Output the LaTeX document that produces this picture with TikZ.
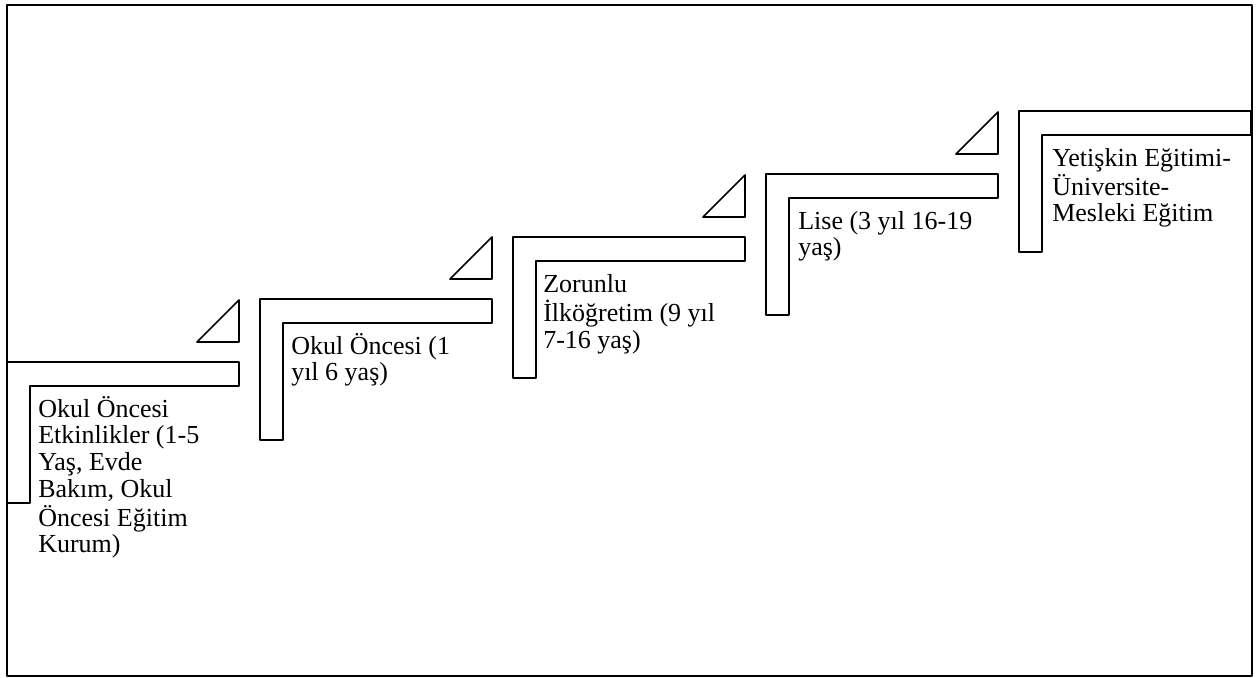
\documentclass[tikz,border=0pt]{standalone}
\usepackage{fontspec}
\setmainfont{Liberation Serif}
\usepackage{tikz}
\newcommand{\steplines}[1]{\begin{tabular}[t]{@{}l@{}}#1\end{tabular}}

\begin{document}
\begin{tikzpicture}[x=0.75pt, y=-0.75pt, line join=round,
    stepshape/.style = {draw, line width=1.3pt},
    steptri/.style = {draw, line width=1.3pt},
    steptext/.style = {anchor=base west, inner sep=0pt, font=\fontsize{19.5}{20}\selectfont}]
            \useasboundingbox (0,0) rectangle (1258,678);
            \draw[line width=1pt] (7,5) rectangle (1252,676);
            % steps
            \draw[stepshape] (7,362) -- ++(232,0) -- ++(0,24) -- ++(-209,0) -- ++(0,117) -- ++(-23,0) -- cycle;
            \draw[stepshape] (260,299) -- ++(232,0) -- ++(0,24) -- ++(-209,0) -- ++(0,117) -- ++(-23,0) -- cycle;
            \draw[stepshape] (513,237) -- ++(232,0) -- ++(0,24) -- ++(-209,0) -- ++(0,117) -- ++(-23,0) -- cycle;
            \draw[stepshape] (766,174) -- ++(232,0) -- ++(0,24) -- ++(-209,0) -- ++(0,117) -- ++(-23,0) -- cycle;
            \draw[stepshape] (1019,111) -- ++(232,0) -- ++(0,24) -- ++(-209,0) -- ++(0,117) -- ++(-23,0) -- cycle;
            % triangles
            \draw[steptri] (239,300) -- (239,342) -- (197,342) -- cycle;
            \draw[steptri] (492,237) -- (492,279) -- (450,279) -- cycle;
            \draw[steptri] (745,175) -- (745,217) -- (703,217) -- cycle;
            \draw[steptri] (998,112) -- (998,154) -- (956,154) -- cycle;
            % texts
            \node[steptext] (s1) at (38,417) {\steplines{Okul Öncesi\\Etkinlikler (1-5\\Yaş, Evde\\Bakım, Okul\\Öncesi Eğitim\\Kurum)}};
            \node[steptext] (s2) at (291,354) {\steplines{Okul Öncesi (1\\yıl 6 yaş)}};
            \node[steptext] (s3) at (543,292) {\steplines{Zorunlu\\İlköğretim (9 yıl\\7-16 yaş)}};
            \node[steptext] (s4) at (798,229) {\steplines{Lise (3 yıl 16-19\\yaş)}};
            \node[steptext] (s5) at (1052,166) {\steplines{Yetişkin Eğitimi-\\Üniversite-\\Mesleki Eğitim}};
        \end{tikzpicture}
\end{document}
